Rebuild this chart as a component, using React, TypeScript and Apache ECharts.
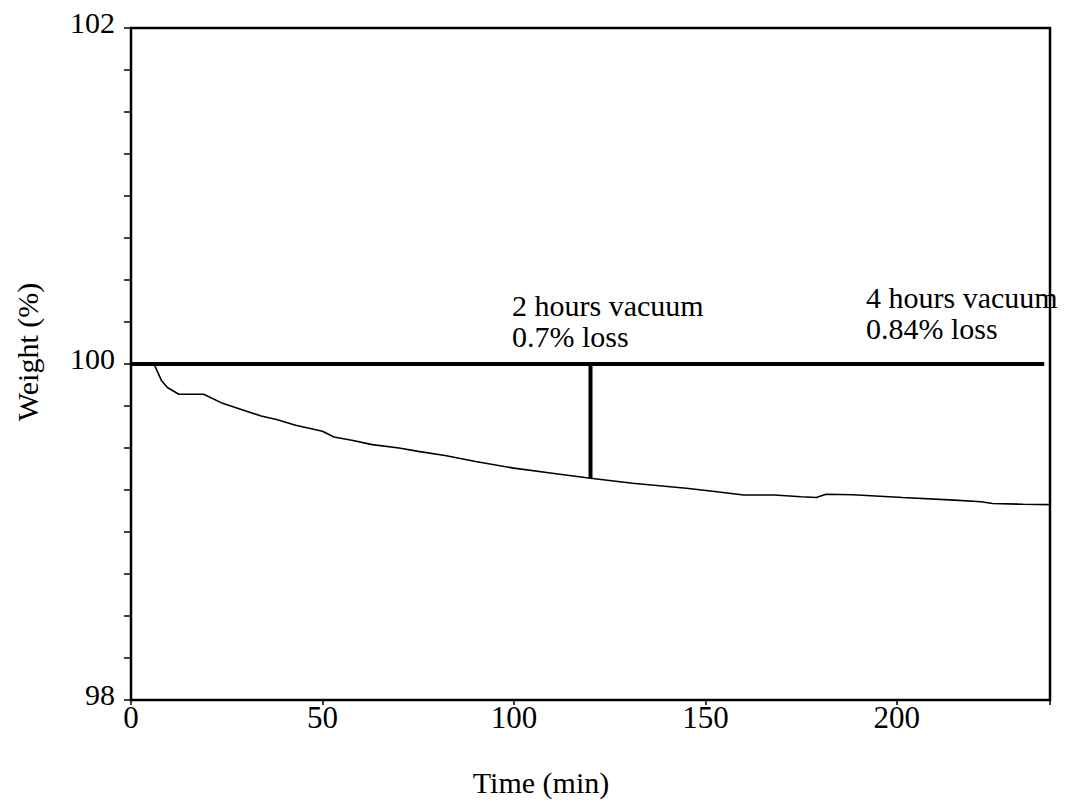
import React, { useEffect, useRef } from "react";
import * as echarts from "echarts";

const timeMin: number[] = [6, 7, 8, 9.5, 12.5, 19, 23.5, 30, 34, 38, 43, 50, 53, 58, 63, 70, 75, 82, 90, 100, 110, 120, 131, 145, 153, 160, 168, 175, 179, 181.5, 188.5, 201.5, 215, 222, 225, 233, 240];
const weightPct: number[] = [100.0, 99.95, 99.9, 99.86, 99.82, 99.82, 99.77, 99.72, 99.69, 99.67, 99.635, 99.6, 99.565, 99.545, 99.52, 99.5, 99.48, 99.455, 99.42, 99.38, 99.35, 99.32, 99.29, 99.26, 99.24, 99.22, 99.22, 99.21, 99.205, 99.225, 99.222, 99.205, 99.19, 99.18, 99.17, 99.165, 99.163];

const baselineX: number[] = [0, 238.5];
const baselineY: number[] = [100, 100];
const lossMarkX: number[] = [120, 120];
const lossMarkY: number[] = [100, 99.32];

const xTickLabels: number[] = [0, 50, 100, 150, 200];
const yTickLabels: number[] = [98, 100, 102];

const annotations: string[][] = [
  ["2 hours vacuum", "0.7% loss"],
  ["4 hours vacuum", "0.84% loss"],
];
const annotationAnchors: number[][] = [
  [512, 290],
  [866, 282],
];

const FONT = '"Liberation Serif", "Times New Roman", serif';

export default function App() {
  const ref = useRef<HTMLDivElement>(null);
  useEffect(() => {
    if (!ref.current) return;
    const chart = echarts.init(ref.current, undefined, { renderer: "svg" });
    const curve = timeMin.map((t, i) => [t, weightPct[i]]);
    const base = baselineX.map((t, i) => [t, baselineY[i]]);
    const mark = lossMarkX.map((t, i) => [t, lossMarkY[i]]);
    const annoTexts: any[] = [];
    annotations.forEach((lines, k) => {
      lines.forEach((line, j) => {
        annoTexts.push({
          type: "text",
          x: annotationAnchors[k][0],
          y: annotationAnchors[k][1] + j * 31,
          style: {
            text: line,
            font: `30px ${FONT}`,
            lineHeight: 30,
            fill: "#000",
            align: "left",
            verticalAlign: "top",
          },
        });
      });
    });
    chart.setOption({
      animation: false,
      backgroundColor: "#ffffff",
      grid: {
        left: 131,
        right: 27,
        top: 28,
        bottom: 103,
        show: true,
        borderColor: "#000",
        borderWidth: 2.5,
        backgroundColor: "transparent",
      },
      xAxis: {
        type: "value",
        min: 0,
        max: 240,
        interval: 50,
        axisLine: { show: true, lineStyle: { color: "#000", width: 2 } },
        axisTick: { show: true, length: 5, lineStyle: { color: "#000", width: 1.5 } },
        splitLine: { show: false },
        axisLabel: {
          color: "#000",
          fontFamily: FONT,
          fontSize: 31,
          margin: 2,
          formatter: (v: number) => (xTickLabels.includes(v) ? String(v) : ""),
        },
      },
      yAxis: {
        type: "value",
        min: 98,
        max: 102,
        interval: 0.25,
        axisLine: { show: true, lineStyle: { color: "#000", width: 2 } },
        axisTick: { show: true, length: 7, lineStyle: { color: "#000", width: 1.5 } },
        splitLine: { show: false },
        axisLabel: {
          color: "#000",
          fontFamily: FONT,
          fontSize: 30,
          margin: 16,
          verticalAlign: "bottom",
          lineHeight: 12,
          formatter: (v: number) => (yTickLabels.includes(v) ? String(v) : ""),
        },
      },
      series: [
        {
          type: "line",
          data: curve,
          showSymbol: false,
          symbol: "none",
          lineStyle: { color: "#000", width: 1.6 },
        },
        {
          type: "line",
          data: base,
          showSymbol: false,
          symbol: "none",
          lineStyle: { color: "#000", width: 4 },
        },
        {
          type: "line",
          data: mark,
          showSymbol: false,
          symbol: "none",
          lineStyle: { color: "#000", width: 4 },
        },
      ],
      graphic: [
        ...annoTexts,
        {
          type: "text",
          x: 27,
          y: 352,
          rotation: Math.PI / 2,
          style: {
            text: "Weight (%)",
            font: `30px ${FONT}`,
            fill: "#000",
            align: "center",
            verticalAlign: "middle",
          },
        },
        {
          type: "text",
          x: 541,
          y: 782,
          style: {
            text: "Time (min)",
            font: `30px ${FONT}`,
            fill: "#000",
            align: "center",
            verticalAlign: "middle",
          },
        },
      ],
    });
    return () => chart.dispose();
  }, []);
  return (
    <div
      ref={ref}
      style={{ position: "absolute", left: 0, top: 0, width: 1077, height: 803 }}
    />
  );
}
